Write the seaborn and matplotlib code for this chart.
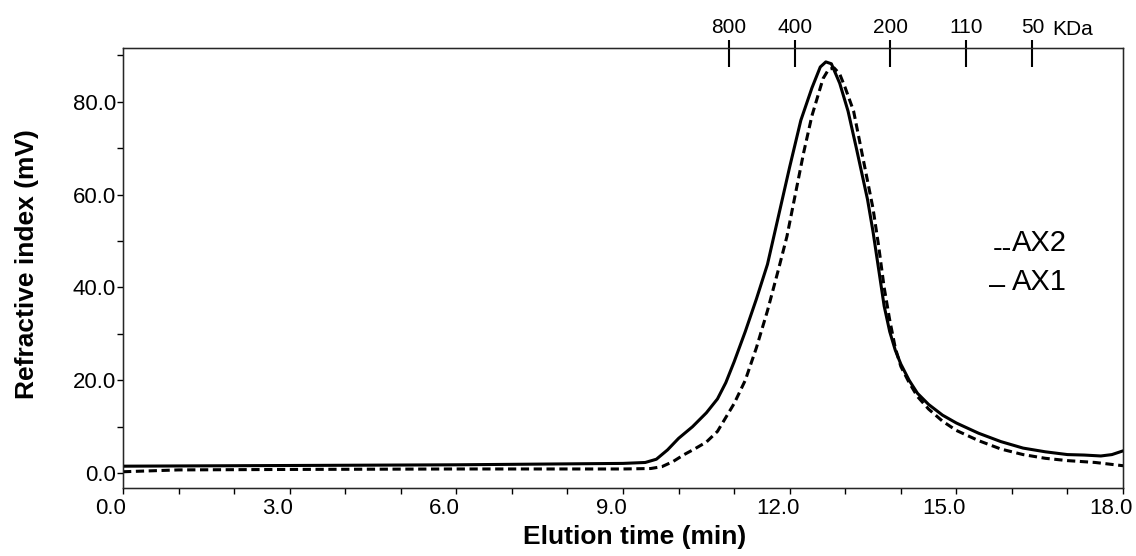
import numpy as np
import pandas as pd
import matplotlib
matplotlib.use("Agg")
import matplotlib.pyplot as plt
import matplotlib.transforms as mtransforms
import seaborn as sns
from matplotlib.ticker import MultipleLocator, FixedLocator, FormatStrFormatter

# AX1 (solid) trace
ax1_time = [0.0, 2.0, 4.0, 6.0, 8.0, 9.0, 9.4, 9.6, 9.8, 10.0, 10.25, 10.5, 10.7,
            10.85, 11.0, 11.2, 11.4, 11.6, 11.8, 12.0, 12.2, 12.4, 12.55, 12.65,
            12.75, 12.9, 13.05, 13.2, 13.4, 13.5, 13.6, 13.7, 13.8, 13.9, 14.0,
            14.15, 14.3, 14.5, 14.75, 15.0, 15.4, 15.8, 16.2, 16.6, 17.0, 17.3,
            17.6, 17.8, 18.0]
ax1_ri = [1.5, 1.6, 1.7, 1.8, 2.0, 2.1, 2.3, 3.0, 5.0, 7.5, 10.0, 13.0, 16.0,
          19.5, 24.0, 30.5, 37.5, 45.0, 55.5, 66.0, 76.0, 83.0, 87.5, 88.6,
          88.2, 84.0, 78.0, 70.0, 59.0, 52.0, 44.0, 36.0, 30.5, 26.5, 23.5,
          20.0, 17.2, 14.8, 12.5, 10.8, 8.6, 6.8, 5.4, 4.6, 4.0, 3.9,
          3.7, 4.0, 4.8]

# AX2 (dashed) trace
ax2_time = [0.0, 1.0, 3.0, 6.0, 8.0, 9.0, 9.5, 9.7, 9.9, 10.1, 10.3, 10.5, 10.7,
            10.85, 11.0, 11.2, 11.4, 11.6, 11.8, 11.95, 12.1, 12.25, 12.4, 12.5,
            12.6, 12.7, 12.8, 12.9, 13.0, 13.15, 13.3, 13.5, 13.6, 13.7, 13.8,
            13.9, 14.0, 14.15, 14.3, 14.5, 14.75, 15.0, 15.4, 15.8, 16.2, 16.6,
            17.0, 17.5, 18.0]
ax2_ri = [0.3, 0.7, 0.8, 0.9, 0.9, 0.9, 1.0, 1.4, 2.5, 4.0, 5.3, 6.7, 9.0,
          12.0, 15.0, 20.0, 27.0, 35.0, 44.0, 51.0, 60.0, 69.0, 77.0, 81.0,
          85.0, 87.0, 87.3, 86.0, 83.0, 78.0, 69.0, 57.0, 49.0, 40.0, 33.0,
          27.0, 23.0, 19.5, 16.5, 13.8, 11.2, 9.2, 7.0, 5.2, 4.0, 3.2,
          2.7, 2.3, 1.6]

# molecular weight markers (top axis)
mw_pos = [10.9, 12.09, 13.81, 15.18, 16.37]
mw_labels = ["800", "400", "200", "110", "50"]

sns.set_style("ticks")
plt.rcParams['font.family'] = ['Liberation Sans', 'DejaVu Sans']
plt.rcParams['text.color'] = 'black'
plt.rcParams['axes.labelcolor'] = 'black'
plt.rcParams['xtick.color'] = 'black'
plt.rcParams['ytick.color'] = 'black'

fig = plt.figure(figsize=(11.36, 5.56), dpi=100)
ax = fig.add_axes([0.1083, 0.1223, 0.8803, 0.7914])

sns.lineplot(x=ax2_time, y=ax2_ri, ax=ax, color='black', lw=2.2,
             linestyle=(0, (2.7, 1.5)))
sns.lineplot(x=ax1_time, y=ax1_ri, ax=ax, color='black', lw=2.2)

ax.set_xlim(0, 18)
ax.set_ylim(-3.2, 91.6)
ax.xaxis.set_major_locator(MultipleLocator(3))
ax.xaxis.set_minor_locator(MultipleLocator(1))
ax.yaxis.set_major_locator(MultipleLocator(20))
ax.yaxis.set_minor_locator(MultipleLocator(10))
ax.xaxis.set_major_formatter(FormatStrFormatter('%.1f'))
ax.yaxis.set_major_formatter(FormatStrFormatter('%.1f'))
ax.tick_params(which='both', direction='out', length=4, width=1, colors='black',
               labelsize=16)
ax.tick_params(axis='y', pad=1)
ax.tick_params(axis='x', pad=3)
for s in ax.spines.values():
    s.set_color('black')
    s.set_linewidth(1)

# x tick labels sit a little left of their ticks in the original
shift = mtransforms.ScaledTranslation(-12 / 100, 0, fig.dpi_scale_trans)
for lab in ax.get_xticklabels():
    lab.set_transform(lab.get_transform() + shift)

ax.set_xlabel("Elution time (min)", fontsize=19, fontweight='bold')
ax.xaxis.set_label_coords(0.512, -0.085)
ax.set_ylabel("Refractive index (mV)", fontsize=19, fontweight='bold')
ax.yaxis.set_label_coords(-0.084, 0.51)

# secondary top axis with MW markers
top = ax.twiny()
top.set_xlim(ax.get_xlim())
top.xaxis.remove_overlapping_locs = False
top.set_xticks(mw_pos)
top.set_xticklabels(mw_labels)
top.xaxis.set_minor_locator(FixedLocator(mw_pos))
top.tick_params(axis='x', which='major', direction='in', length=14, width=1.5,
                colors='black', labelsize=15, pad=8)
top.tick_params(axis='x', which='minor', direction='out', length=6, width=1.5,
                colors='black')
top.annotate("KDa", xy=(17.1, 1.0), xycoords=('data', 'axes fraction'),
             xytext=(0, 6.5), textcoords='offset points', ha='center', va='bottom',
             fontsize=15, color='black')

# hand-made key, as in the original
ax.text(0.9435, 0.557, "AX2", transform=ax.transAxes, fontsize=21, ha='right', va='center')
ax.text(0.8885, 0.543, "--", transform=ax.transAxes, fontsize=21, ha='right', va='center')
ax.text(0.9435, 0.468, "AX1", transform=ax.transAxes, fontsize=21, ha='right', va='center')
ax.text(0.882, 0.458, "\u2013", transform=ax.transAxes, fontsize=21, ha='right', va='center')

fig.savefig("out.png", dpi=100)
